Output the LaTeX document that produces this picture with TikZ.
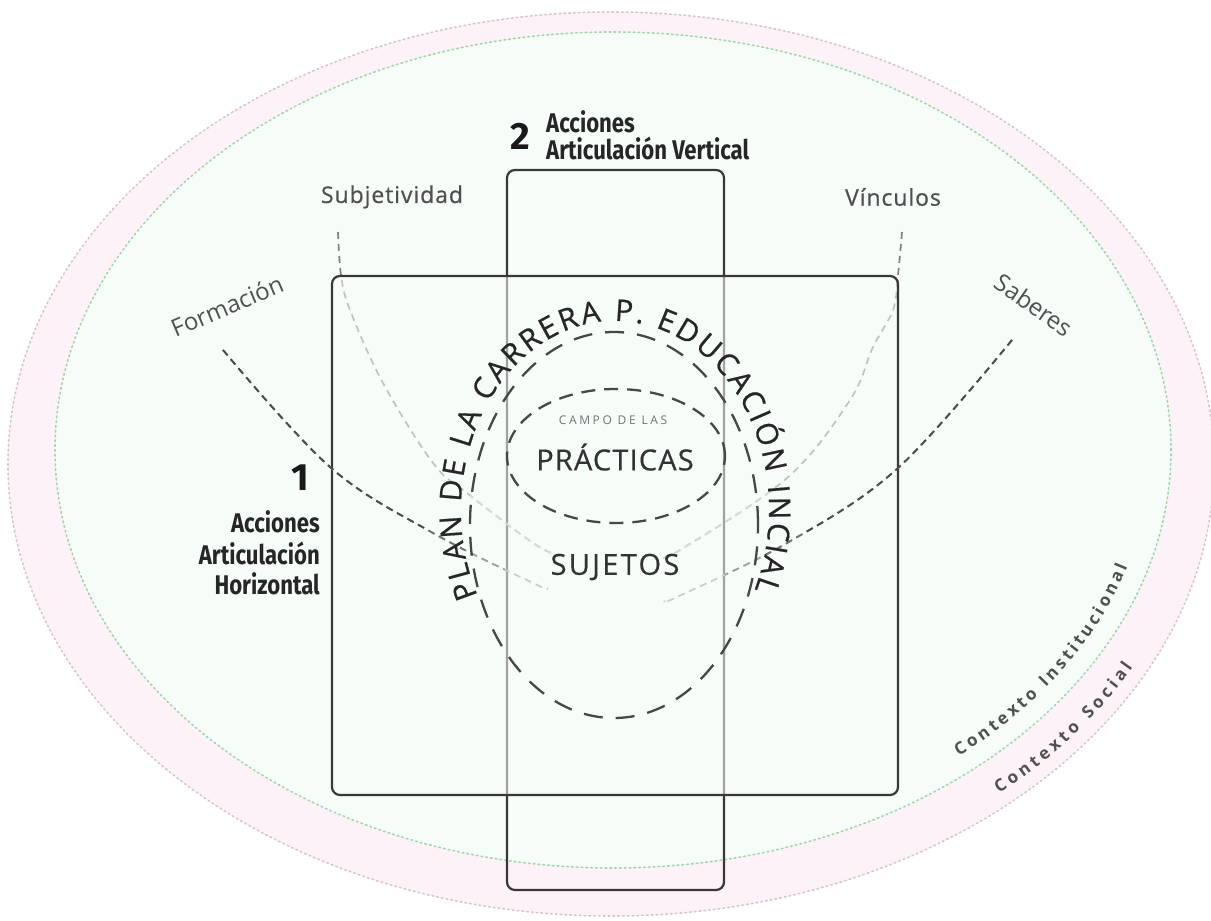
\documentclass[tikz,border=0pt]{standalone}
\usepackage{fontspec}
\setmainfont{Open Sans}
\newfontfamily\labfont[LetterSpace=4,FakeBold=0.6]{Open Sans}
\newfontfamily\rotfont{Open Sans}
\newfontfamily\campofont[LetterSpace=22]{Open Sans}
\newfontfamily\pracfont[LetterSpace=4,FakeBold=0.5]{Open Sans}
\newfontfamily\sujfont[LetterSpace=8,FakeBold=0.5]{Open Sans}
\newfontfamily\planfont[FakeBold=0.6]{Open Sans}
\newfontfamily\condfont[FakeStretch=0.82]{Fira Sans}
\newfontfamily\numfont{Fira Sans}
\usetikzlibrary{decorations.text}
\definecolor{pinkbg}{HTML}{FCF2F7}
\definecolor{greenbg}{HTML}{F6FCF8}
\definecolor{pinkline}{HTML}{D6C4CB}
\definecolor{greenline}{HTML}{9ED6A8}
\definecolor{boxline}{HTML}{383838}
\definecolor{ellline}{HTML}{474747}
\definecolor{labgray}{HTML}{505050}
\newcommand{\plantxt}{\planfont\fontsize{30}{32}\selectfont}
\newcommand{\ctxtxt}{\bfseries\fontsize{17}{20}\selectfont}
\tikzset{
  dotline/.style={line width=1.6pt, dash pattern=on 1.6pt off 3.2pt, line cap=round},
  boxstyle/.style={draw=boxline, line width=2.2pt, rounded corners=8pt},
  bigdash/.style={draw=ellline, line width=2.3pt, dash pattern=on 19pt off 13pt},
  smalldash/.style={draw=ellline, line width=2.3pt, dash pattern=on 14pt off 9pt},
  fdash/.style={line width=1.7pt, dash pattern=on 7pt off 5pt},
  lab/.style={text=labgray, font=\labfont\fontsize{23}{28}\selectfont, inner sep=0pt},
  rotlab/.style={text=labgray, font=\rotfont\fontsize{24}{28}\selectfont, inner sep=0pt},
  acc/.style={text=black!85, font=\condfont\bfseries\fontsize{27}{30}\selectfont, inner sep=0pt},
  numstyle/.style={text=black!90, font=\numfont\bfseries\fontsize{38}{40}\selectfont, inner sep=0pt},
  ctr/.style={text=black!80, inner sep=0pt}
}
\begin{document}
\begin{tikzpicture}[x=1pt,y=1pt]
\useasboundingbox (0,0) rectangle (1211,921);
\fill[white] (0,0) rectangle (1211,921);
% context ellipses
\path[fill=pinkbg] (611,457) ellipse[x radius=603, y radius=452];
\draw[pinkline, dotline] (611,457) ellipse[x radius=603, y radius=452];
\path[fill=greenbg] (613,471) ellipse[x radius=558, y radius=418];
\draw[greenline, dotline] (613,471) ellipse[x radius=558, y radius=418];
% vertical rectangle
\draw[boxstyle] (507,31) rectangle (724,751);
% Subjetividad / Vinculos curves
\def\subjpath{plot[smooth, tension=0.6] coordinates {(338,689) (341,646) (350,611) (383,538) (433,458) (467,428) (533,378) (560,365)}}
\def\vincpath{plot[smooth, tension=0.6] coordinates {(902,689) (898,646) (893,611) (873,574) (850,521) (787,443) (680,371) (660,364)}}
\draw[fdash, draw=black!50] \subjpath;
\draw[fdash, draw=black!50] \vincpath;
\begin{scope}
\clip (470,0) rectangle (770,921);
\draw[fdash, draw=black!30] \subjpath;
\draw[fdash, draw=black!30] \vincpath;
\end{scope}
% horizontal box
\path[fill=greenbg, fill opacity=0.55] (332,126) rectangle (898,645);
\draw[boxstyle] (332,126) rectangle (898,645);
% Formacion / Saberes curves
\def\formpath{plot[smooth, tension=0.6] coordinates {(223,571) (330,454) (433,388) (533,338) (547,333)}}
\def\sabpath{plot[smooth, tension=0.6] coordinates {(1012,581) (898,453) (787,378) (677,324) (665,320)}}
\draw[fdash, draw=black!20] \formpath;
\draw[fdash, draw=black!20] \sabpath;
\begin{scope}
\clip (0,0) rectangle (505,921);
\draw[fdash, draw=black!38] \formpath;
\end{scope}
\begin{scope}
\clip (0,0) rectangle (465,921);
\draw[fdash, draw=black!55] \formpath;
\end{scope}
\begin{scope}
\clip (0,0) rectangle (425,921);
\draw[fdash, draw=black!70] \formpath;
\end{scope}
\begin{scope}
\clip (725,0) rectangle (1211,921);
\draw[fdash, draw=black!38] \sabpath;
\end{scope}
\begin{scope}
\clip (765,0) rectangle (1211,921);
\draw[fdash, draw=black!55] \sabpath;
\end{scope}
\begin{scope}
\clip (805,0) rectangle (1211,921);
\draw[fdash, draw=black!70] \sabpath;
\end{scope}
% dashed ellipses
\draw[bigdash] (614,396) ellipse[x radius=144, y radius=193];
\draw[smalldash] (616,465) ellipse[x radius=109, y radius=67];
% curved texts
\path[decorate, decoration={text along path, text align=fit to path, text color=black!85,
  text={|\plantxt|PLAN DE LA CARRERA P. EDUCACIÓN INCIAL}}]
  (615,411) ++(207:154 and 189) arc[start angle=207, end angle=-25, x radius=154, y radius=189];
\path[decorate, decoration={text along path, text align=fit to path, text color=labgray,
  text={|\ctxtxt|Contexto Institucional}}]
  (613,471) ++(-50:538 and 400) arc[start angle=-50, end angle=-17, x radius=538, y radius=400];
\path[decorate, decoration={text along path, text align=fit to path, text color=labgray,
  text={|\ctxtxt|Contexto Social}}]
  (612,463) ++(-49:590 and 445) arc[start angle=-49, end angle=-28, x radius=590, y radius=445];
% labels
\node[lab] (subj) at (392,724) {Subjetividad};
\node[lab] (vinc) at (893,724) {Vínculos};
\node[rotlab, rotate=23] (form) at (227,615) {Formación};
\node[rotlab, rotate=-35] (sab) at (1034,616) {Saberes};
% actions
\node[numstyle] (n1) at (300,443) {1};
\node[acc, anchor=base east] (acc1a) at (320,388) {Acciones};
\node[acc, anchor=base east] (acc1b) at (320,356) {Articulación};
\node[acc, anchor=base east] (acc1c) at (320,326) {Horizontal};
\node[numstyle] (n2) at (520,785) {2};
\node[acc, anchor=base west] (acc2a) at (546,788) {Acciones};
\node[acc, anchor=base west] (acc2b) at (546,761) {Articulación Vertical};
% central texts
\node[ctr, text=black!55, font=\campofont\fontsize{12}{14}\selectfont] (campo) at (613,501) {CAMPO DE LAS};
\node[ctr, font=\pracfont\fontsize{29}{32}\selectfont] (prac) at (615,464) {PRÁCTICAS};
\node[ctr, font=\sujfont\fontsize{29}{32}\selectfont] (suj) at (615,354) {SUJETOS};
\end{tikzpicture}
\end{document}
